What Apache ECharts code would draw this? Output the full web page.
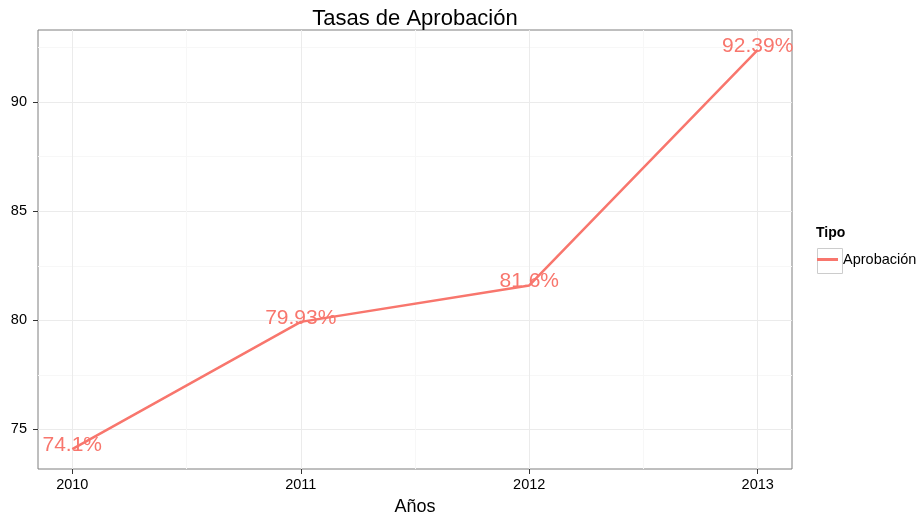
<!DOCTYPE html>
<html>
<head>
<meta charset="utf-8">
<script src="https://cdn.jsdelivr.net/npm/echarts@6/dist/echarts.min.js"></script>
<style>
  html, body { margin: 0; padding: 0; background: #fff; }
  #chart { width: 919px; height: 518px; }
</style>
</head>
<body>
<div id="chart"></div>
<script>
const years = [2010, 2011, 2012, 2013]
const rates = [74.1, 79.93, 81.6, 92.39]
const yTicks = [75, 80, 85, 90]
const yMinor = [77.5, 82.5, 87.5, 92.5]
const xMinor = [2010.5, 2011.5, 2012.5]

const lineColor = '#F8766D'
const font = 'Arial, "Liberation Sans", sans-serif'

const chart = echarts.init(document.getElementById('chart'))

chart.setOption({
  animation: false,
  textStyle: { fontFamily: font },
  title: {
    text: 'Tasas de Aprobación',
    left: 410,
    top: 3,
    textAlign: 'center',
    textStyle: { fontSize: 22, fontWeight: 'normal', color: '#000', fontFamily: font }
  },
  grid: {
    left: 38, right: 127, top: 30, bottom: 49,
    outerBoundsMode: 'none',
    containLabel: false,
    show: true,
    borderColor: '#7f7f7f',
    borderWidth: 1,
    backgroundColor: '#fff'
  },
  legend: {
    data: ['Aprobación'],
    left: 817,
    top: 252,
    padding: 0,
    icon: 'rect',
    itemWidth: 21,
    itemHeight: 3,
    textStyle: { fontSize: 14.5, color: '#000', fontFamily: font }
  },
  graphic: [
    { type: 'text', left: 816, top: 226, style: { text: 'Tipo', font: 'bold 14px ' + font, fill: '#000' } },
    { type: 'rect', left: 815, top: 246, shape: { width: 25, height: 25 }, style: { fill: 'none', stroke: '#cccccc', lineWidth: 1 }, z: 0 }
  ],
  xAxis: [{
    type: 'value',
    min: 2009.85,
    max: 2013.15,
    name: 'Años',
    nameLocation: 'middle',
    nameGap: 29,
    nameTextStyle: { fontSize: 18, color: '#000' },
    axisLine: { show: false },
    axisTick: { show: true, length: 5, customValues: years, lineStyle: { color: '#333' } },
    axisLabel: { customValues: years, fontSize: 14.5, color: '#000', margin: 8, formatter: v => String(v) },
    splitLine: { show: true, lineStyle: { color: '#ebebeb', width: 1 } }
  }, {
    type: 'value',
    min: 2009.85,
    max: 2013.15,
    position: 'bottom',
    axisLine: { show: false },
    axisTick: { show: false, customValues: xMinor },
    axisLabel: { show: false, customValues: xMinor },
    splitLine: { show: true, lineStyle: { color: '#f7f7f7', width: 1 } }
  }],
  yAxis: [{
    type: 'value',
    min: 73.19,
    max: 93.3,
    axisLine: { show: false },
    axisTick: { show: true, length: 5, customValues: yTicks, lineStyle: { color: '#333' } },
    axisLabel: { customValues: yTicks, fontSize: 14.5, color: '#000', margin: 11 },
    splitLine: { show: true, lineStyle: { color: '#ebebeb', width: 1 } }
  }, {
    type: 'value',
    min: 73.19,
    max: 93.3,
    position: 'left',
    axisLine: { show: false },
    axisTick: { show: false, customValues: yMinor },
    axisLabel: { show: false, customValues: yMinor },
    splitLine: { show: true, lineStyle: { color: '#f7f7f7', width: 1 } }
  }],
  series: [{
    name: 'Aprobación',
    type: 'line',
    xAxisIndex: 0,
    yAxisIndex: 0,
    data: years.map((y, i) => [y, rates[i]]),
    showSymbol: true,
    symbol: 'circle',
    symbolSize: 0,
    lineStyle: { color: lineColor, width: 2.5 },
    itemStyle: { color: lineColor },
    label: {
      show: true,
      position: 'inside',
      offset: [0, -4],
      fontSize: 21,
      color: lineColor,
      fontFamily: font,
      formatter: p => p.value[1] + '%'
    },
    z: 3
  }]
})
</script>
</body>
</html>
